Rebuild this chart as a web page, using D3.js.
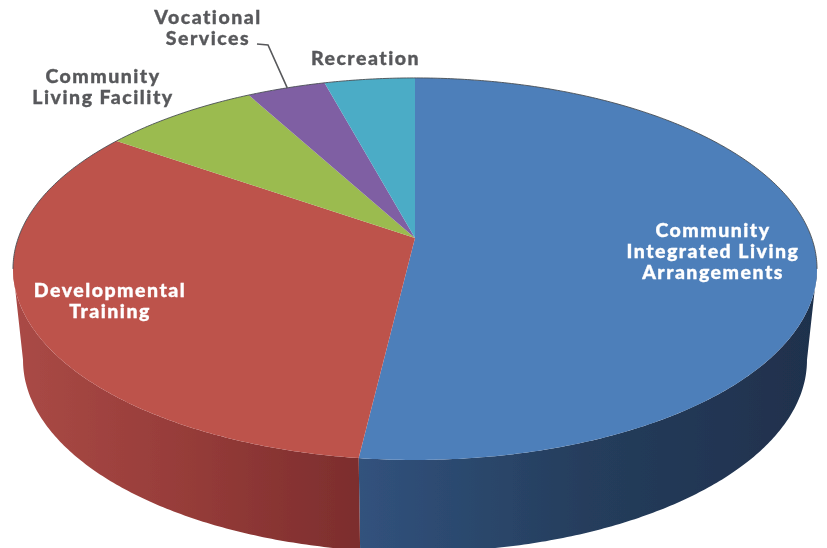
<!DOCTYPE html>
<meta charset="utf-8">
<script src="https://d3js.org/d3.v7.min.js"></script>
<style>
body { margin: 0; background: #fff; }
text { font-family: Lato, "Open Sans", sans-serif; font-weight: 900; font-size: 19.5px; text-anchor: middle; letter-spacing: 1.5px; stroke-width: 0.35px; }
</style>
<body>
<script>

// values, share of the pie in percent
var categories = ["Community Integrated Living Arrangements", "Developmental Training", "Community Living Facility", "Vocational Services", "Recreation"];
var shares = [51.9, 32.75, 7.4, 3.7, 4.25];
var labelLines = [["Community", "Integrated Living", "Arrangements"], ["Developmental", "Training"], ["Community", "Living Facility"], ["Vocational", "Services"], ["Recreation"]];

// styling and layout, kept apart from the data
var topColors = ["#4e7fba", "#bd524c", "#9bbb50", "#7f5fa3", "#4bacc6"];
var sideColors = [["#31527d", "#253d5c", "#1f304c"], ["#aa4a46", "#963c39", "#7c2d2d"]];
var labelPos = [[713, 237], [110, 297], [103, 83], [208, 23.5], [365.5, 65]];
var labelFill = ["#fff", "#fff", "#58595b", "#58595b", "#58595b"];
var lineGap = [21, 21, 21, 21, 0];

var width = 827, height = 548;
var svg = d3.select("body").append("svg").attr("width", width).attr("height", height);
var defs = svg.append("defs");

// the reference is a soft, slightly blurred scan
defs.append("filter").attr("id", "soft").append("feGaussianBlur").attr("stdDeviation", 0.45);
var chart = svg.append("g").attr("filter", "url(#soft)");

// tilted disk: a circle under perspective, so the pie centre sits above the ellipse centre
var k = 0.162;
var topDisk = {a: 396.7, b: 186, cx: 415, cy: 238};
var baseDisk = {a: 386.8, b: 187, cx: 415, cy: 329};

function project(disk, angle) {
    var x = Math.sin(angle), y = -Math.cos(angle), w = 1 - k * y;
    return [disk.cx + disk.a * x / w, disk.cy + disk.b * y / w];
}

function rim(disk, a0, a1) {
    var n = Math.max(2, Math.ceil(Math.abs(a1 - a0) / 0.01));
    return d3.range(n + 1).map(function(i) { return project(disk, a0 + (a1 - a0) * i / n); });
}

var line = d3.line();
var slices = d3.pie().sort(null).value(function(d) { return d; })(shares);

// side wall runs between the two points where the rim turns back
var visFrom = Math.PI / 2 + Math.asin(k), visTo = 3 * Math.PI / 2 - Math.asin(k);

slices.forEach(function(s, i) {
    var a0 = Math.max(s.startAngle, visFrom), a1 = Math.min(s.endAngle, visTo);
    if (a1 <= a0) return;
    var pts = rim(topDisk, a0, a1).concat(rim(baseDisk, a1, a0));
    var xs = d3.extent(pts, function(p) { return p[0]; });
    var grad = defs.append("linearGradient").attr("id", "side" + i)
        .attr("gradientUnits", "userSpaceOnUse")
        .attr("x1", xs[0]).attr("x2", xs[1]).attr("y1", 0).attr("y2", 0);
    grad.selectAll("stop").data(sideColors[i]).enter().append("stop")
        .attr("offset", function(d, j) { return j / 2; })
        .attr("stop-color", function(d) { return d; });
    chart.append("path").attr("d", line(pts) + "Z").attr("fill", "url(#side" + i + ")");
});

// top face
var apex = [topDisk.cx, topDisk.cy];
chart.append("g").selectAll("path").data(slices).enter().append("path")
    .attr("d", function(d) { return line([apex].concat(rim(topDisk, d.startAngle, d.endAngle))) + "Z"; })
    .attr("fill", function(d, i) { return topColors[i]; });

// thin dark edge along the back of the rim
chart.append("path")
    .attr("d", line(rim(topDisk, visTo, visFrom + 2 * Math.PI)))
    .attr("fill", "none").attr("stroke", "#4a4f55").attr("stroke-width", 0.9);

// leader for Vocational Services, from the purple slice's rim
chart.append("path")
    .attr("d", line([project(topDisk, slices[3].startAngle + 0.12), [268, 45], [257, 44]]))
    .attr("fill", "none").attr("stroke", "#58595b").attr("stroke-width", 1.6);

// labels
var labels = chart.append("g").selectAll("text").data(labelLines).enter().append("text")
    .attr("x", function(d, i) { return labelPos[i][0]; })
    .attr("y", function(d, i) { return labelPos[i][1]; })
    .attr("fill", function(d, i) { return labelFill[i]; })
    .attr("stroke", function(d, i) { return labelFill[i]; });
labels.each(function(lines, i) {
    d3.select(this).selectAll("tspan").data(lines).enter().append("tspan")
        .attr("x", labelPos[i][0])
        .attr("y", function(d, j) { return labelPos[i][1] + j * lineGap[i]; })
        .text(function(d) { return d; });
});

</script>
</body>
</html>
